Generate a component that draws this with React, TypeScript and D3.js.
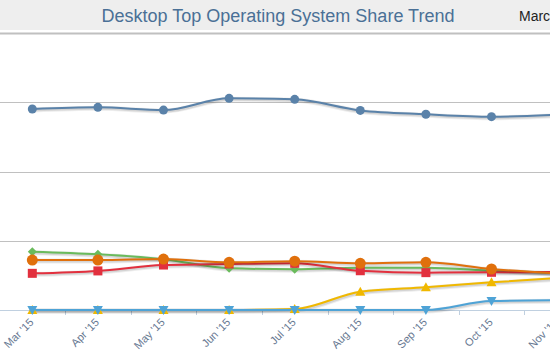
import React from "react";
import * as d3 from "d3";

const categories = ["Mar '15", "Apr '15", "May '15", "Jun '15", "Jul '15", "Aug '15", "Sep '15", "Oct '15", "Nov '15"];
const win7 = [58.1, 58.6, 57.8, 61.2, 60.9, 57.7, 56.6, 55.9, 56.5];
const winXP = [16.85, 16.1, 14.7, 12.05, 11.8, 12.2, 12.2, 11.4, 10.7];
const win81 = [14.45, 14.45, 14.74, 13.8, 14.1, 13.5, 13.8, 11.85, 10.6];
const win8 = [10.6, 11.3, 13.0, 13.3, 13.5, 11.35, 10.8, 10.9, 11.0];
const win10 = [0, 0, 0, 0, 0.3, 5.3, 6.6, 8.0, 9.2];
const macOS = [0, 0, 0, 0, 0, 0, 0, 2.6, 2.8];
const yTicks = [0, 20, 40, 60, 80];

type Marker = "circle" | "bigcircle" | "square" | "diamond" | "triangle" | "triangle-down";
const series: { name: string; data: number[]; color: string; marker: Marker }[] = [
  { name: "Windows 7", data: win7, color: "#5a82a9", marker: "circle" },
  { name: "Windows XP", data: winXP, color: "#6abb5c", marker: "diamond" },
  { name: "Windows 8", data: win8, color: "#e2303e", marker: "square" },
  { name: "Windows 8.1", data: win81, color: "#e0700c", marker: "bigcircle" },
  { name: "Windows 10", data: win10, color: "#f0b800", marker: "triangle" },
  { name: "Mac OS X", data: macOS, color: "#4ea3d6", marker: "triangle-down" },
];

const W = 550;
const H = 358;

export default function App() {
  const step = 65.6;
  const x0 = -0.5;
  const x = d3.scaleBand<string>().domain(categories).range([x0, x0 + step * categories.length]).padding(0);
  const cx = (c: string) => (x(c) as number) + x.bandwidth() / 2;
  const y = d3.scaleLinear().domain([0, 80]).range([310, 33.3]);
  const line = d3
    .line<number>()
    .x((_, i) => cx(categories[i]))
    .y((d) => y(d))
    .curve(d3.curveMonotoneX);

  const sym = (m: Marker, px: number, py: number, color: string, key: string) => {
    switch (m) {
      case "circle":
        return <circle key={key} cx={px} cy={py} r={4.5} fill={color} />;
      case "bigcircle":
        return <circle key={key} cx={px} cy={py} r={5.5} fill={color} />;
      case "square":
        return <rect key={key} x={px - 4.5} y={py - 4.5} width={9} height={9} fill={color} />;
      case "diamond":
        return <path key={key} d={`M${px},${py - 4.5}L${px + 4.5},${py}L${px},${py + 4.5}L${px - 4.5},${py}Z`} fill={color} />;
      case "triangle":
        return <path key={key} d={`M${px},${py - 5}L${px + 5},${py + 4}L${px - 5},${py + 4}Z`} fill={color} />;
      case "triangle-down":
        return <path key={key} d={`M${px - 5},${py - 4}L${px + 5},${py - 4}L${px},${py + 5}Z`} fill={color} />;
    }
  };

  return (
    <svg
      width={W}
      height={H}
      style={{ position: "fixed", top: 0, left: 0, background: "#fff", fontFamily: "'Liberation Sans', Arial, sans-serif" }}
    >
      <rect x={0} y={0} width={W} height={30} fill="#eeeeee" />
      <text x={278} y={21.5} textAnchor="middle" fontSize={18} fill="#4a7096">
        Desktop Top Operating System Share Trend
      </text>
      <text x={519} y={20.5} fontSize={14} fill="#222">
        March 2016
      </text>

      {yTicks.filter((t) => t > 0).map((t) => (
        <line key={t} x1={0} x2={W} y1={Math.round(y(t)) + 0.5} y2={Math.round(y(t)) + 0.5} stroke="#c0c0c0" strokeWidth={t === 80 ? 2 : 1} />
      ))}
      <line x1={0} x2={W} y1={310.5} y2={310.5} stroke="#c0d0e0" strokeWidth={1} />
      {categories.slice(1).map((c) => (
        <line key={c} x1={Math.round(x(c) as number) + 0.5} x2={Math.round(x(c) as number) + 0.5} y1={310} y2={315} stroke="#c0d0e0" />
      ))}
      {categories.map((c) => (
        <text
          key={c}
          transform={`translate(${cx(c) + 2},${323}) rotate(-45)`}
          textAnchor="end"
          fontSize={11}
          fill="#667791"
        >
          {c}
        </text>
      ))}

      {series.map((s) => (
        <g key={s.name}>
          <path d={line(s.data) || ""} fill="none" stroke="rgba(0,0,0,0.07)" strokeWidth={5} transform="translate(1,1)" />
          <path d={line(s.data) || ""} fill="none" stroke="rgba(0,0,0,0.1)" strokeWidth={3} transform="translate(1,1)" />
          <path d={line(s.data) || ""} fill="none" stroke={s.color} strokeWidth={2} />
        </g>
      ))}
      {series.map((s) => (
        <g key={s.name + "m"}>{s.data.map((v, i) => sym(s.marker, cx(categories[i]), y(v), s.color, s.name + i))}</g>
      ))}
    </svg>
  );
}
